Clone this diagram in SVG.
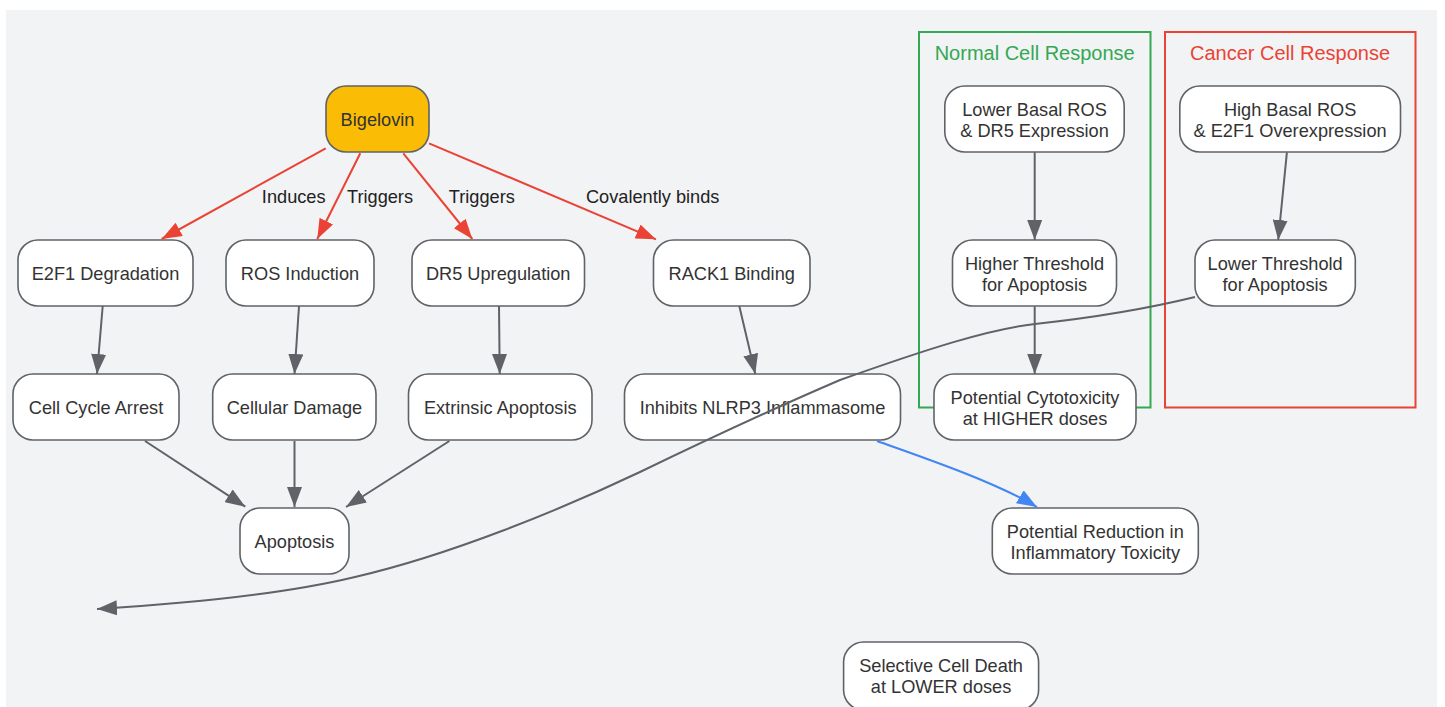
<svg xmlns="http://www.w3.org/2000/svg" width="1445" height="707" viewBox="0 0 1445 707">
<style>
.node rect{fill:#ffffff;stroke:#5f6368;stroke-width:1.6}
.node text,.lbl{font-family:"Liberation Sans",Arial,sans-serif;font-size:18.2px;fill:#333333;text-anchor:middle}
.lbl{fill:#222222}
.edge{fill:none;stroke:#5f6368;stroke-width:2}
.red{stroke:#ea4335}
.blue{stroke:#4285f4}
.ctitle{font-family:"Liberation Sans",Arial,sans-serif;font-size:20px;text-anchor:middle}
</style>
<defs>
<marker id="ag" markerUnits="userSpaceOnUse" markerWidth="20" markerHeight="15" refX="20" refY="7.5" orient="auto"><path d="M0,0 L20,7.5 L0,15 z" fill="#5f6368"/></marker>
<marker id="ar" markerUnits="userSpaceOnUse" markerWidth="20" markerHeight="15" refX="20" refY="7.5" orient="auto"><path d="M0,0 L20,7.5 L0,15 z" fill="#ea4335"/></marker>
<marker id="ab" markerUnits="userSpaceOnUse" markerWidth="20" markerHeight="15" refX="20" refY="7.5" orient="auto"><path d="M0,0 L20,7.5 L0,15 z" fill="#4285f4"/></marker>
</defs>
<rect x="0" y="0" width="1445" height="707" fill="#ffffff"/>
<rect x="6" y="10" width="1431" height="700" fill="#f1f3f4"/>
<g id="cluster-normal">
<rect x="919" y="32" width="231.5" height="375.5" fill="none" stroke="#34a853" stroke-width="2"/>
<text class="ctitle" x="1034.7" y="59.5" fill="#34a853">Normal Cell Response</text>
</g>
<g id="cluster-cancer">
<rect x="1165" y="32" width="250.5" height="375.5" fill="none" stroke="#ea4335" stroke-width="2"/>
<text class="ctitle" x="1290" y="59.5" fill="#ea4335">Cancer Cell Response</text>
</g>
<g id="nodes">
<g id="n-bigelovin" class="node"><rect x="326" y="86" width="103" height="66" rx="20" style="fill:#fbbc05"/><text x="377.5" y="125.5">Bigelovin</text></g>
<g id="n-e2f1" class="node"><rect x="18" y="240" width="175" height="66" rx="20"/><text x="105.5" y="279.5">E2F1 Degradation</text></g>
<g id="n-ros" class="node"><rect x="226" y="240" width="148" height="66" rx="20"/><text x="300" y="279.5">ROS Induction</text></g>
<g id="n-dr5" class="node"><rect x="412" y="240" width="172.5" height="66" rx="20"/><text x="498.2" y="279.5">DR5 Upregulation</text></g>
<g id="n-rack1" class="node"><rect x="653.5" y="240" width="156.5" height="66" rx="20"/><text x="731.7" y="279.5">RACK1 Binding</text></g>
<g id="n-cca" class="node"><rect x="13" y="374" width="166" height="66" rx="20"/><text x="96" y="413.5">Cell Cycle Arrest</text></g>
<g id="n-cd" class="node"><rect x="212.7" y="374" width="163.3" height="66" rx="20"/><text x="294.4" y="413.5">Cellular Damage</text></g>
<g id="n-ea" class="node"><rect x="408.5" y="374" width="183.5" height="66" rx="20"/><text x="500.2" y="413.5">Extrinsic Apoptosis</text></g>
<g id="n-apop" class="node"><rect x="240" y="508" width="109" height="66" rx="20"/><text x="294.5" y="547.5">Apoptosis</text></g>
<g id="n-nlrp3" class="node"><rect x="624.5" y="374" width="276" height="66" rx="20"/><text x="762.5" y="413.5">Inhibits NLRP3 Inflammasome</text></g>
<g id="n-red" class="node"><rect x="992.3" y="508" width="206" height="66" rx="20"/><text x="1095.3" y="537.5">Potential Reduction in</text><text x="1095.3" y="559.3">Inflammatory Toxicity</text></g>
<g id="n-sel" class="node"><rect x="843.6" y="642" width="195" height="68" rx="20"/><text x="941.1" y="671.5">Selective Cell Death</text><text x="941.1" y="693.3">at LOWER doses</text></g>
<g id="n-lbr" class="node"><rect x="944.8" y="86" width="179.4" height="66" rx="20"/><text x="1034.5" y="115.5">Lower Basal ROS</text><text x="1034.5" y="137.3">&amp; DR5 Expression</text></g>
<g id="n-ht" class="node"><rect x="952.5" y="240" width="164" height="66" rx="20"/><text x="1034.5" y="269.5">Higher Threshold</text><text x="1034.5" y="291.3">for Apoptosis</text></g>
<g id="n-pc" class="node"><rect x="934" y="374" width="202" height="66" rx="20"/><text x="1035" y="403.5">Potential Cytotoxicity</text><text x="1035" y="425.3">at HIGHER doses</text></g>
<g id="n-hbr" class="node"><rect x="1179.8" y="86" width="220.7" height="66" rx="20"/><text x="1290.1" y="115.5">High Basal ROS</text><text x="1290.1" y="137.3">&amp; E2F1 Overexpression</text></g>
<g id="n-lt" class="node"><rect x="1195" y="240" width="160.3" height="66" rx="20"/><text x="1275.1" y="269.5">Lower Threshold</text><text x="1275.1" y="291.3">for Apoptosis</text></g>
</g>
<g id="connectors">
<path class="edge red" d="M325.7,148.3 L161.7,239" marker-end="url(#ar)"/>
<path class="edge red" d="M360.3,153.3 L317.3,239" marker-end="url(#ar)"/>
<path class="edge red" d="M403.3,153.3 L472.3,239" marker-end="url(#ar)"/>
<path class="edge red" d="M429,143.3 L656,239.3" marker-end="url(#ar)"/>
<path class="edge" d="M102.7,306 L97,374" marker-end="url(#ag)"/>
<path class="edge" d="M299,306 L294.5,374" marker-end="url(#ag)"/>
<path class="edge" d="M499,306 L499.7,374" marker-end="url(#ag)"/>
<path class="edge" d="M739.3,306 L755.3,374" marker-end="url(#ag)"/>
<path class="edge" d="M145,441 L245.3,506.7" marker-end="url(#ag)"/>
<path class="edge" d="M294.5,441 L294.5,507" marker-end="url(#ag)"/>
<path class="edge" d="M449.4,441 L346,507" marker-end="url(#ag)"/>
<path class="edge blue" d="M877,441 C925,458 995,482 1037,507" marker-end="url(#ab)"/>
<path class="edge" d="M1034.7,152.3 L1034.7,240" marker-end="url(#ag)"/>
<path class="edge" d="M1034.7,306.3 L1034.7,374" marker-end="url(#ag)"/>
<path class="edge" d="M1286.9,152.3 L1278.2,240" marker-end="url(#ag)"/>
<path class="edge" d="M1195,297 C1150,308 1090,318 1035,324 C990,329 930,348 840,380 C770,410 700,443 640,472 C560,510 450,555 355,577 C280,595 180,604 97,609" marker-end="url(#ag)"/>
<text class="lbl" x="293.7" y="203">Induces</text>
<text class="lbl" x="380" y="203">Triggers</text>
<text class="lbl" x="481.8" y="203">Triggers</text>
<text class="lbl" x="652.7" y="203">Covalently binds</text>
</g>
</svg>
